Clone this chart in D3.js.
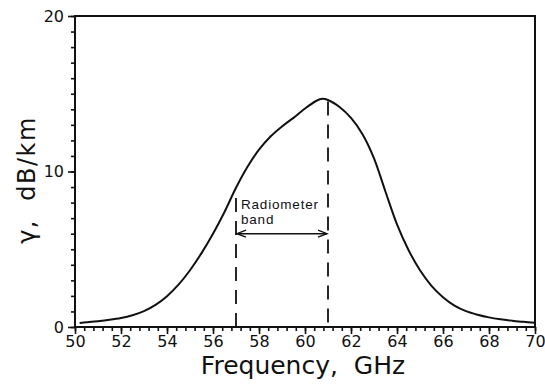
<!DOCTYPE html>
<html>
<head>
<meta charset="utf-8">
<script src="https://cdn.jsdelivr.net/npm/d3@7/dist/d3.min.js"></script>
<style>
  body { margin: 0; background: #fff; }
  svg { display: block; }
  .tick text { font-family: "DejaVu Sans", sans-serif; font-size: 16px; fill: #111; }
  .tick line { stroke: #111; stroke-width: 1.6; }
</style>
</head>
<body>
<svg id="chart" width="545" height="386"></svg>
<script>
// values
var freq = [50.2, 50.5, 51, 51.5, 52, 52.5, 53, 53.5, 54, 54.5, 55, 55.5, 56, 56.5, 57, 57.5,
    58, 58.5, 59, 59.5, 60, 60.5, 60.75, 61, 61.5, 62, 62.5, 63, 63.5, 64, 64.5, 65, 65.5,
    66, 66.5, 67, 67.5, 68, 68.5, 69, 69.5, 70];
var gamma = [0.26, 0.3, 0.37, 0.46, 0.58, 0.76, 1.02, 1.42, 1.98, 2.72, 3.65, 4.75, 6.0, 7.4, 8.95, 10.3,
    11.4, 12.25, 12.9, 13.45, 14.05, 14.55, 14.68, 14.6, 14.15, 13.45, 12.4, 10.85, 8.7, 6.6, 4.95, 3.65, 2.65,
    1.92, 1.38, 1.02, 0.79, 0.62, 0.5, 0.41, 0.33, 0.27];
var xTicks = [50, 52, 54, 56, 58, 60, 62, 64, 66, 68, 70];
var yTicks = [0, 10, 20];
var bandEdges = [57, 61];
var bandTops = [8.3, 14.5];
var arrowLevel = 6;
var bandLabel = ["Radiometer", "band"];

var margin = { top: 16, right: 10, bottom: 59, left: 75 };
var width = 545 - margin.left - margin.right;
var height = 386 - margin.top - margin.bottom;

var svg = d3.select("#chart");
var g = svg.append("g").attr("transform", "translate(" + margin.left + "," + margin.top + ")");

var x = d3.scaleLinear().domain([50, 70]).range([0, width]);
var y = d3.scaleLinear().domain([0, 20]).range([height, 0]);

// minor ticks
g.append("g")
    .attr("transform", "translate(0," + height + ")")
    .call(d3.axisBottom(x).tickValues(d3.range(0, 51).map(function (i) { return 50 + i * 0.4; }))
        .tickSize(4).tickFormat(""))
    .call(function (a) { a.select(".domain").remove(); });
g.append("g")
    .call(d3.axisLeft(y).tickValues(d3.range(0, 21)).tickSize(4).tickFormat(""))
    .call(function (a) { a.select(".domain").remove(); });

// major ticks with labels
g.append("g")
    .attr("transform", "translate(0," + height + ")")
    .call(d3.axisBottom(x).tickValues(xTicks).tickSize(7).tickPadding(2).tickFormat(d3.format("d")))
    .call(function (a) { a.select(".domain").remove(); });
g.append("g")
    .call(d3.axisLeft(y).tickValues(yTicks).tickSize(7).tickPadding(4).tickFormat(d3.format("d")))
    .call(function (a) { a.select(".domain").remove(); });

// frame
g.append("rect")
    .attr("x", 0).attr("y", 0)
    .attr("width", width).attr("height", height)
    .attr("fill", "none").attr("stroke", "#111").attr("stroke-width", 2);

// attenuation curve
var line = d3.line()
    .x(function (d, i) { return x(freq[i]); })
    .y(function (d) { return y(d); })
    .curve(d3.curveCatmullRom.alpha(0.5));

g.append("path")
    .datum(gamma)
    .attr("d", line)
    .attr("fill", "none")
    .attr("stroke", "#111")
    .attr("stroke-width", 2);

// radiometer band edges
g.selectAll(".edge")
    .data(bandEdges)
    .enter()
    .append("line")
    .attr("class", "edge")
    .attr("x1", function (d) { return x(d); })
    .attr("x2", function (d) { return x(d); })
    .attr("y1", function (d, i) { return y(bandTops[i]); })
    .attr("y2", y(0))
    .attr("stroke", "#111")
    .attr("stroke-width", 1.8)
    .attr("stroke-dasharray", "14,9");

// double arrow
var ay = y(arrowLevel);
var x0 = x(bandEdges[0]) + 1, x1 = x(bandEdges[1]) - 1;
g.append("line")
    .attr("x1", x0).attr("x2", x1)
    .attr("y1", ay).attr("y2", ay)
    .attr("stroke", "#111").attr("stroke-width", 1.4);
g.append("path")
    .attr("d", "M" + (x0 + 9) + "," + (ay - 3.5) + "L" + x0 + "," + ay + "L" + (x0 + 9) + "," + (ay + 3.5) +
        "M" + (x1 - 9) + "," + (ay - 3.5) + "L" + x1 + "," + ay + "L" + (x1 - 9) + "," + (ay + 3.5))
    .attr("fill", "none").attr("stroke", "#111").attr("stroke-width", 1.4);

g.selectAll(".band-label")
    .data(bandLabel)
    .enter()
    .append("text")
    .attr("class", "band-label")
    .attr("x", x(bandEdges[0]) + 5)
    .attr("y", function (d, i) { return y(arrowLevel) - 25 + i * 15; })
    .attr("font-family", "Liberation Sans, sans-serif")
    .attr("font-size", "13.5px")
    .attr("letter-spacing", "0.8px")
    .attr("fill", "#111")
    .text(function (d) { return d; });

// axis titles
svg.append("text")
    .attr("x", margin.left + width / 2 - 2)
    .attr("y", 374)
    .attr("text-anchor", "middle")
    .attr("font-family", "DejaVu Sans, sans-serif")
    .attr("font-size", "25px")
    .attr("fill", "#111")
    .attr("xml:space", "preserve")
    .text("Frequency,  GHz");

svg.append("text")
    .attr("transform", "translate(35," + 180 + ") rotate(-90)")
    .attr("text-anchor", "middle")
    .attr("font-family", "DejaVu Sans, sans-serif")
    .attr("font-size", "24px")
    .attr("letter-spacing", "1.5px")
    .attr("fill", "#111")
    .attr("xml:space", "preserve")
    .text("γ,  dB/km");
</script>
</body>
</html>
